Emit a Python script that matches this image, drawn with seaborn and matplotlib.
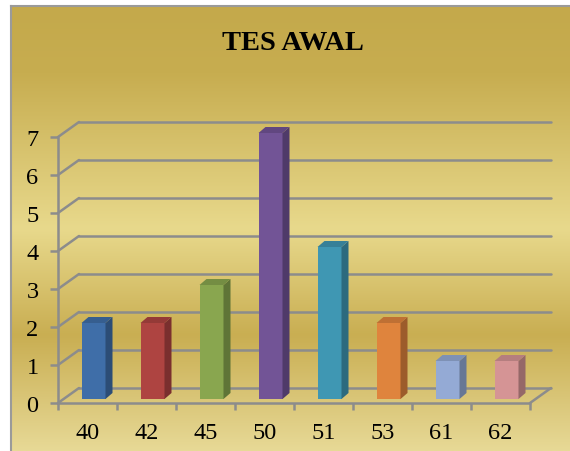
import numpy as np
import pandas as pd
import seaborn as sns
import matplotlib.pyplot as plt
from matplotlib.colors import LinearSegmentedColormap
from matplotlib.patches import Polygon
from matplotlib.transforms import ScaledTranslation

# data
nilai = ["40", "42", "45", "50", "51", "53", "61", "62"]
jumlah = [2, 2, 3, 7, 4, 2, 1, 1]
warna = ["#3F6EA8", "#AE4441", "#89A64F", "#725496", "#3F97B3", "#DF843D", "#94AAD5", "#D59495"]
gelap = ["#2C4D76", "#7A2F2E", "#5F7437", "#4F3A69", "#2C6A7E", "#9C5C2B", "#677795", "#956868"]

df = pd.DataFrame({"nilai": nilai, "jumlah": jumlah})

sns.set_style("white")
plt.rcParams["font.family"] = ["Liberation Serif", "DejaVu Serif"]
plt.rcParams["text.color"] = "black"
plt.rcParams["xtick.labelcolor"] = "black"
plt.rcParams["ytick.labelcolor"] = "black"

W, H = 570, 452
fig = plt.figure(figsize=(W / 100, H / 100), dpi=100)

# gold gradient background
bg = fig.add_axes([11 / W, 0, (W - 11) / W, (H - 7) / H], zorder=-10)
emas = LinearSegmentedColormap.from_list(
    "emas", [(0, "#C4A94B"), (0.15, "#C7AD50"), (0.5, "#E8D98C"), (0.74, "#C9AE52"), (1, "#E7D996")])
bg.imshow(np.linspace(0, 1, 256).reshape(-1, 1), aspect="auto", cmap=emas, extent=[0, 1, 0, 1])
bg.set_xlim(0, 1)
bg.set_ylim(0, 1)
bg.set_xticks([])
bg.set_yticks([])
for s in ["right", "bottom"]:
    bg.spines[s].set_visible(False)
for s in ["left", "top"]:
    bg.spines[s].set_color("#9A9A9A")
    bg.spines[s].set_linewidth(1.5)

ax = fig.add_axes([58 / W, (H - 404) / H, 472 / W, 266 / H])
ax.patch.set_alpha(0)

sns.barplot(data=df, x="nilai", y="jumlah", hue="nilai", palette=warna, saturation=1,
            width=24 / 59, legend=False, ax=ax, zorder=3, linewidth=0)
ax.set_xlim(-0.5, 7.5)
ax.set_ylim(0, 7)

# pixel -> data units
px_x = 8 / 472
px_y = 7 / 266
abu = "#8C8C8C"

# back wall & floor (offset 21px right, 15px up)
wx, wy = 21 * px_x, 15 * px_y
for v in range(0, 8):
    ax.plot([-0.5 + wx, 7.5 + wx], [v + wy, v + wy], color=abu, lw=1.8, clip_on=False, zorder=1)
    ax.plot([-0.5, -0.5 + wx], [v, v + wy], color=abu, lw=1.8, clip_on=False, zorder=1)
ax.plot([-0.5, 7.5], [0, 0], color=abu, lw=1.8, clip_on=False, zorder=2)
ax.plot([7.5, 7.5 + wx], [0, wy], color=abu, lw=1.8, clip_on=False, zorder=2)
ax.plot([-0.5, -0.5], [0, 7], color=abu, lw=1.8, clip_on=False, zorder=2)

# bars sit mid-depth, with side and top faces
ox, oy = 6 * px_x, 4 * px_y
dx, dy = 7 * px_x, 6 * px_y
geser = ScaledTranslation(6 / 100, 4 / 100, fig.dpi_scale_trans)
for p, c in zip(ax.patches, gelap):
    x0, w, h = p.get_x(), p.get_width(), p.get_height()
    p.set_transform(ax.transData + geser)
    p.set_clip_on(False)
    x0, x1, y0 = x0 + ox, x0 + w + ox, oy
    side = Polygon([(x1, y0), (x1, h + y0), (x1 + dx, h + y0 + dy), (x1 + dx, y0 + dy)],
                   closed=True, facecolor=c, edgecolor="none", zorder=3, clip_on=False)
    top = Polygon([(x0, h + y0), (x1, h + y0), (x1 + dx, h + y0 + dy), (x0 + dx, h + y0 + dy)],
                  closed=True, edgecolor="none", zorder=3, clip_on=False,
                  facecolor=tuple(min(1, v * 0.85) for v in p.get_facecolor()[:3]))
    ax.add_patch(side)
    ax.add_patch(top)

sns.despine(ax=ax, left=True, bottom=True)
ax.set_xlabel("")
ax.set_ylabel("")
ax.set_yticks(range(0, 8))
ax.tick_params(axis="y", length=6, width=1.8, color=abu, pad=8, labelsize=17.5, left=True)
ax.set_xticks(np.arange(-0.5, 8, 1), minor=True)
ax.tick_params(axis="x", which="major", length=0, pad=14, labelsize=17.5)
ax.tick_params(axis="x", which="minor", length=5, width=1.8, color=abu, bottom=True)

fig.text(293 / W, 1 - 43 / H, "TES AWAL", ha="center", va="center", fontsize=20.5,
         fontweight="bold", color="black")

fig.savefig("out.png", dpi=100)
